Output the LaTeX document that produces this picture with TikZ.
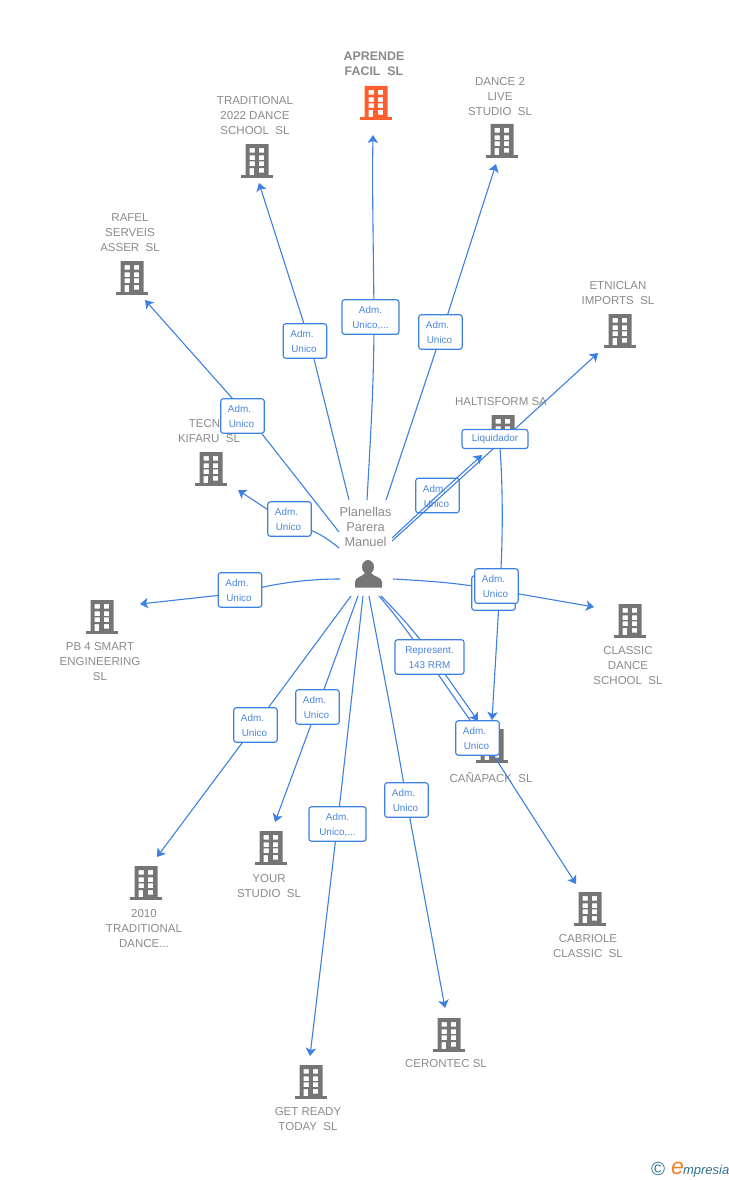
\documentclass[tikz,border=0pt]{standalone}
\usepackage{fontspec}
\setmainfont{Liberation Sans}
\usetikzlibrary{arrows.meta,calc}
\definecolor{linkblue}{HTML}{3C80E0}
\definecolor{labtext}{HTML}{4A86DC}
\definecolor{iconGray}{HTML}{757575}
\definecolor{iconOrange}{HTML}{FF5E2E}
\definecolor{nameGray}{HTML}{8A8A8A}
\definecolor{logoBlue}{HTML}{2F6F8F}
\definecolor{logoOrange}{HTML}{F08020}
\newcommand{\admtext}{\rule{0pt}{9pt}Adm.\kern6pt\\Unico\kern2pt}
\newcommand{\admlongtext}{\rule{0pt}{9pt}Adm.\\Unico,...}
\pgfdeclarelayer{iconlayer}
\pgfdeclarelayer{lowlabel}
\pgfdeclarelayer{linesa}
\pgfdeclarelayer{linesb}
\pgfsetlayers{iconlayer,linesa,lowlabel,linesb,main}
\tikzset{
  x=1pt,y=-1pt,
  linkline/.style={draw=linkblue,line width=1.1pt},
  linkarrow/.style={linkline,-{Stealth[length=8pt,width=10.5pt,inset=2pt]}},
  lab/.style={draw=linkblue,fill=white,rounded corners=2.5pt,line width=1.1pt,text=labtext,
    font=\fontsize{9.9}{15}\selectfont,align=center,inner sep=0pt,minimum height=34.5pt},
  adm/.style={lab,minimum width=43.5pt},
  admlong/.style={lab,minimum width=57pt},
  nametext/.style={text=nameGray,font=\fontsize{11.5}{15}\selectfont,align=center,inner sep=0pt},
  pics/building/.style={code={
    \fill[#1,even odd rule]
      (-11.5,-17) rectangle (11.5,14)
      (-7.5,-13) rectangle (-2.2,-8.3) (1.8,-13) rectangle (7.2,-8.3)
      (-7.5,-5.7) rectangle (-2.2,-1) (1.8,-5.7) rectangle (7.2,-1)
      (-7.5,0.3) rectangle (-2.2,5) (1.8,0.3) rectangle (7.2,5)
      (-7.5,7) rectangle (-3,14) (1.8,7) rectangle (7.2,11.7);
    \fill[#1] (-16,14) rectangle (16,17);
  }},
}
\begin{document}
\begin{tikzpicture}
\useasboundingbox (0,0) rectangle (728,1180);
\begin{pgfonlayer}{iconlayer}
\pic at (376,103) {building=iconOrange};
\pic at (257,161) {building=iconGray};
\pic at (502,141) {building=iconGray};
\pic at (132,278) {building=iconGray};
\pic at (620,331) {building=iconGray};
\pic at (503,432) {building=iconGray};
\pic at (211,469) {building=iconGray};
\pic at (102,617) {building=iconGray};
\pic at (630,621) {building=iconGray};
\pic at (492,746) {building=iconGray};
\pic at (590,909) {building=iconGray};
\pic at (146,883) {building=iconGray};
\pic at (271,848) {building=iconGray};
\pic at (311,1082) {building=iconGray};
\pic at (449,1035) {building=iconGray};
\node[nametext,font=\fontsize{12.4}{15}\selectfont\bfseries] (n1) at (374,64) {APRENDE\\FACIL\ \ SL};
\node[nametext] (n2) at (255,116) {TRADITIONAL\\2022 DANCE\\SCHOOL\ \ SL};
\node[nametext] (n3) at (500,97) {DANCE 2\\LIVE\\STUDIO\ \ SL};
\node[nametext] (n4) at (130,233) {RAFEL\\SERVEIS\\ASSER\ \ SL};
\node[nametext] (n5) at (618,293) {ETNICLAN\\IMPORTS\ \ SL};
\node[nametext] (n6) at (501,402) {HALTISFORM SA};
\node[nametext] (n7) at (209,431) {TECNO\\KIFARU\ \ SL};
\node[nametext] (n8) at (100,662) {PB 4 SMART\\ENGINEERING\\SL};
\node[nametext] (n9) at (628,666) {CLASSIC\\DANCE\\SCHOOL\ \ SL};
\node[nametext] (n10) at (491,777) {CAÑAPACK\ \ SL};
\node[nametext] (n11) at (588,946) {CABRIOLE\\CLASSIC\ \ SL};
\node[nametext] (n12) at (144,929) {2010\\TRADITIONAL\\DANCE...};
\node[nametext] (n13) at (269,886) {YOUR\\STUDIO\ \ SL};
\node[nametext] (n14) at (308,1119) {GET READY\\TODAY\ \ SL};
\node[nametext] (n15) at (446,1064) {CERONTEC SL};
\node[nametext,font=\fontsize{12.8}{15}\selectfont] (pname) at (365.5,527) {Planellas\\Parera\\Manuel};
\fill[iconGray] (368,567) ellipse (6 and 7);
\fill[iconGray] (355,587.5) -- (355,582) .. controls (355,577) and (362,577) .. (365,573) -- (371,573) .. controls (374,577) and (382,577) .. (382,582) -- (382,587.5) -- cycle;
\node[inner sep=0pt,text=logoBlue,font=\fontsize{19}{19}\selectfont] (logoc) at (658,1169) {©};
\node[inner sep=0pt,anchor=base west,font=\fontsize{13}{13}\selectfont\itshape,text=logoBlue] (logot) at (671,1174) {{\fontsize{23}{23}\selectfont\color{logoOrange}e}\kern-1pt mpresia};
\end{pgfonlayer}

% free ends of the connectors
\coordinate (s1) at (367,500); \coordinate (t1) at (373,135);
\coordinate (s2) at (386,500); \coordinate (t2) at (496,164);
\coordinate (s3) at (349,500); \coordinate (t3) at (259,183);
\coordinate (s4) at (339,532); \coordinate (t4) at (145,300);
\coordinate (s5) at (339,548); \coordinate (t5) at (238,490);
\coordinate (s6) at (340,579); \coordinate (t6) at (140,604);
\coordinate (s7) at (351,596); \coordinate (t7) at (157,857);
\coordinate (s8) at (358,596); \coordinate (t8) at (275,822);
\coordinate (s9) at (363,596); \coordinate (t9) at (310,1056);
\coordinate (s10) at (369,596); \coordinate (t10) at (445,1008);
\coordinate (s11) at (379,596); \coordinate (t11) at (478,721);
\coordinate (s12) at (381,596); \coordinate (t12) at (576,884);
\coordinate (s13) at (393,579); \coordinate (t13) at (594,607);
\coordinate (s14) at (392,541); \coordinate (t14) at (598,353);
\coordinate (s15) at (392,538); \coordinate (t15) at (482,455);
\coordinate (s16) at (500,448); \coordinate (t16) at (492,720);

\begin{pgfonlayer}{lowlabel}
\node[adm] (a15) at (437.5,495.5) {\admtext};
\end{pgfonlayer}
\node[admlong] (a1) at (370.5,317) {\admlongtext};
\node[adm] (a2) at (440.5,332) {\admtext};
\node[adm] (a3) at (305,341) {\admtext};
\node[adm] (a4) at (242.5,416) {\admtext};
\node[adm] (a5) at (289.5,519) {\admtext};
\node[adm] (a6) at (240,590) {\admtext};
\node[adm] (a7) at (255.5,725) {\admtext};
\node[adm] (a8) at (317.5,707) {\admtext};
\node[admlong] (a9) at (337.5,824) {\admlongtext};
\node[adm] (a10) at (406.5,800) {\admtext};
\node[lab,minimum width=69pt] (a11) at (429.5,657) {\rule{0pt}{9pt}Represent.\\143 RRM};
\node[adm] (a13b) at (493.5,593) {};
\node[adm] (a13) at (496.5,586) {\admtext};
\node[adm] (a12) at (477.5,738) {\admtext};
\node[lab,minimum width=66pt,minimum height=19pt] (a14) at (495,439) {Liquidador};

\begin{pgfonlayer}{linesa}
\draw[linkline] (s1) .. controls (371,430) and (374,380) .. ($(a1.center)+(3.5,0)$);
\draw[linkarrow] ($(a1.center)+(3.5,0)$) .. controls (373.5,250) and (372,190) .. (t1);
\draw[linkline] (s2) -- ($(a2.center)+(1.5,0)$);
\draw[linkarrow] ($(a2.center)+(1.5,0)$) -- (t2);
\draw[linkline] (s3) -- ($(a3.center)+(4.5,0)$);
\draw[linkarrow] ($(a3.center)+(4.5,0)$) -- (t3);
\draw[linkline] (s4) -- ($(a4.center)+(5.5,0)$);
\draw[linkarrow] ($(a4.center)+(5.5,0)$) -- (t4);
\draw[linkline] (s5) .. controls (328,539) and (315,529) .. ($(a5.center)+(0,5)$);
\draw[linkarrow] ($(a5.center)+(0,5)$) -- (t5);
\draw[linkline] (s6) .. controls (305,579) and (270,584) .. ($(a6.center)+(0,3)$);
\draw[linkarrow] ($(a6.center)+(0,3)$) -- (t6);
\draw[linkline] (s7) -- (a7.center);
\draw[linkarrow] (a7.center) -- (t7);
\draw[linkline] (s8) -- (a8.center);
\draw[linkarrow] (a8.center) -- (t8);
\draw[linkline] (s9) -- (a9.center);
\draw[linkarrow] (a9.center) -- (t9);
\draw[linkline] (s10) .. controls (378,645) and (395,730) .. (a10.center);
\draw[linkarrow] (a10.center) -- (t10);
\draw[linkline] (s12) .. controls (402,617) and (420,638) .. ($(a11.center)+(3.5,0)$);
\draw[linkarrow] ($(a11.center)+(3.5,0)$) -- (t11);
\draw[linkline] (s11) .. controls (398,618) and (412,638) .. ($(a11.center)+(-3.5,0)$);
\draw[linkline] ($(a11.center)+(-3.5,0)$) -- ($(a12.center)+(5,0)$);
\draw[linkarrow] ($(a12.center)+(5,0)$) -- (t12);
\draw[linkline] (s13) .. controls (430,581) and (460,583) .. ($(a13.center)+(0,4)$);
\draw[linkarrow] ($(a13.center)+(0,4)$) -- (t13);
\draw[linkline] (s16) .. controls (503,490) and (503,540) .. ($(a13.center)+(3.5,0)$);
\draw[linkarrow] ($(a13.center)+(3.5,0)$) -- (t16);
\end{pgfonlayer}
\begin{pgfonlayer}{linesb}
\draw[linkline] (s14) -- ($(a14.center)+(9,0)$);
\draw[linkarrow] ($(a14.center)+(9,0)$) -- (t14);
\draw[linkline] (s15) -- (a15.center);
\draw[linkarrow] (a15.center) -- (t15);
\end{pgfonlayer}
\end{tikzpicture}
\end{document}
